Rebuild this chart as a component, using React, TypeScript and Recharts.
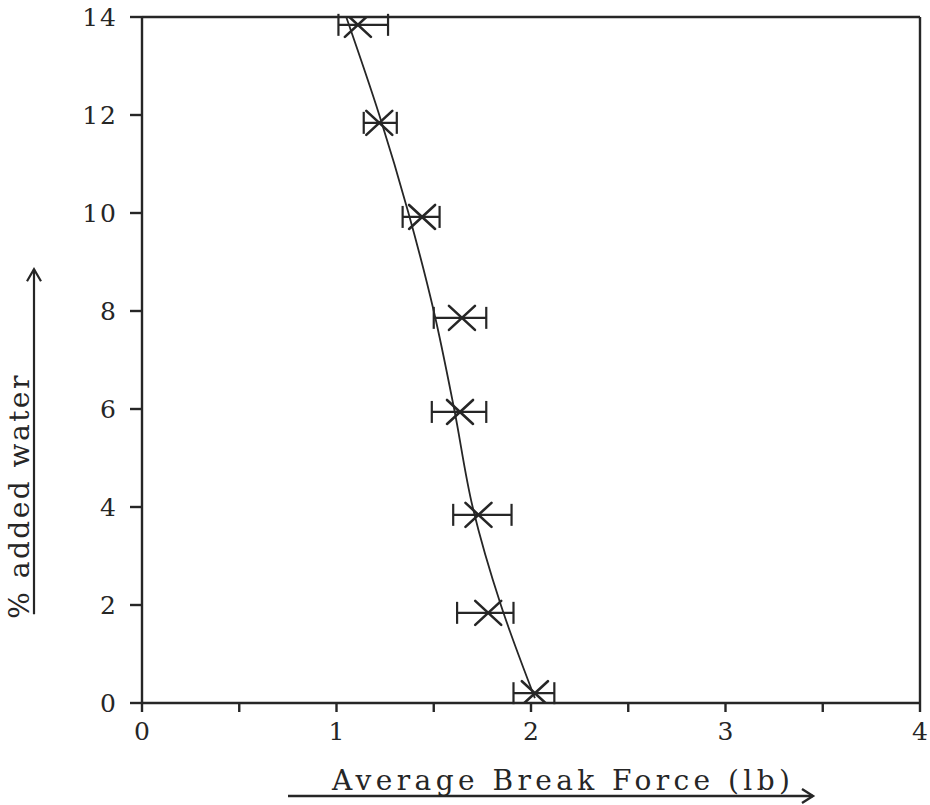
import React from "react";
import {
  ComposedChart,
  Line,
  Scatter,
  ErrorBar,
  XAxis,
  YAxis,
  ReferenceLine,
} from "recharts";

// measured points: % added water vs average break force (lb)
const water = [0.2, 1.84, 3.84, 5.94, 7.86, 9.92, 11.84, 13.84];
const avgForce = [2.02, 1.78, 1.73, 1.635, 1.645, 1.44, 1.22, 1.11];
const forceLow = [1.91, 1.62, 1.6, 1.49, 1.5, 1.34, 1.14, 1.01];
const forceHigh = [2.12, 1.91, 1.9, 1.77, 1.77, 1.53, 1.31, 1.265];

// hand-drawn fit curve
const curveWater = [0.1, 2, 4, 6, 8, 10, 12, 14];
const curveForce = [2.02, 1.845, 1.7, 1.605, 1.5, 1.37, 1.22, 1.05];

const xTicks = [0, 0.5, 1, 1.5, 2, 2.5, 3, 3.5, 4];
const yTicks = [0, 2, 4, 6, 8, 10, 12, 14];

const X_TITLE = "Average Break Force (lb)";
const Y_TITLE = "% added water";

const INK = "#262626";
const FONT = "'DejaVu Serif', 'Liberation Serif', serif";

const points = water.map((w, i) => ({
  water: w,
  force: avgForce[i],
  err: [avgForce[i] - forceLow[i], forceHigh[i] - avgForce[i]],
}));

const curve = curveWater.map((w, i) => ({ water: w, force: curveForce[i] }));

// diagonal cross marker
const XMark = (props: any) => {
  const { cx, cy } = props;
  if (cx == null || cy == null) return null;
  const dx = 13;
  const dy = 12;
  return (
    <g stroke={INK} strokeWidth={2.6} strokeLinecap="round">
      <line x1={cx - dx} y1={cy - dy} x2={cx + dx} y2={cy + dy} />
      <line x1={cx - dx} y1={cy + dy} x2={cx + dx} y2={cy - dy} />
    </g>
  );
};

const XTitle = (props: any) => {
  const { x, y, width } = props.viewBox;
  const cx = x + width / 2 + 30;
  const base = y + 87;
  const x1 = cx - 273;
  const x2 = cx + 252;
  const ly = base + 6;
  return (
    <g>
      <text
        x={cx}
        y={base}
        textAnchor="middle"
        fontFamily={FONT}
        fontSize={28}
        textLength={458}
        lengthAdjust="spacing"
        fill={INK}
      >
        {X_TITLE}
      </text>
      <g stroke={INK} strokeWidth={2.4} fill="none">
        <line x1={x1} y1={ly} x2={x2} y2={ly} />
        <polyline points={`${x2 - 11},${ly - 7} ${x2},${ly} ${x2 - 11},${ly + 7}`} />
      </g>
    </g>
  );
};

const YTitle = (props: any) => {
  const { x, y, height } = props.viewBox;
  const bx = x - 13;
  const cy = y + height * 0.7;
  const lx = bx + 5;
  const y1 = cy + 117;
  const y2 = cy - 228;
  return (
    <g>
      <text
        x={bx}
        y={cy}
        transform={`rotate(-90, ${bx}, ${cy})`}
        textAnchor="middle"
        fontFamily={FONT}
        fontSize={28}
        textLength={243}
        lengthAdjust="spacing"
        fill={INK}
      >
        {Y_TITLE}
      </text>
      <g stroke={INK} strokeWidth={2.2} fill="none">
        <line x1={lx} y1={y1} x2={lx} y2={y2} />
        <polyline points={`${lx - 7},${y2 + 12} ${lx},${y2} ${lx + 7},${y2 + 12}`} />
      </g>
    </g>
  );
};

export default function App() {
  return (
    <div
      style={{
        position: "absolute",
        left: 0,
        top: 0,
        width: 930,
        height: 805,
        background: "#fff",
      }}
    >
      <ComposedChart
        width={930}
        height={805}
        layout="vertical"
        margin={{ top: 17, right: 10, left: 42, bottom: 62 }}
      >
        <XAxis
          type="number"
          dataKey="force"
          domain={[0, 4]}
          ticks={xTicks}
          interval={0}
          tickFormatter={(v: number) => (Number.isInteger(v) ? String(v) : "")}
          tickSize={9}
          tickMargin={10}
          height={40}
          stroke={INK}
          strokeWidth={2.4}
          tick={{ fontFamily: FONT, fontSize: 25, fill: INK }}
          allowDataOverflow
          label={<XTitle />}
        />
        <YAxis
          type="number"
          dataKey="water"
          domain={[0, 14]}
          ticks={yTicks}
          interval={0}
          reversed
          tickSize={12}
          tickMargin={12}
          width={100}
          stroke={INK}
          strokeWidth={2.4}
          tick={{ fontFamily: FONT, fontSize: 25, fill: INK, letterSpacing: 2 }}
          allowDataOverflow
          label={<YTitle />}
        />
        <ReferenceLine x={4} stroke={INK} strokeWidth={2.4} />
        <ReferenceLine y={14} stroke={INK} strokeWidth={2.4} />
        <Line
          data={curve}
          dataKey="force"
          type="monotone"
          stroke={INK}
          strokeWidth={1.8}
          dot={false}
          activeDot={false}
          isAnimationActive={false}
        />
        <Scatter
          data={points}
          dataKey="force"
          shape={<XMark />}
          isAnimationActive={false}
        >
          <ErrorBar
            dataKey="err"
            direction="x"
            width={11}
            stroke={INK}
            strokeWidth={2.2}
            isAnimationActive={false}
          />
        </Scatter>
      </ComposedChart>
    </div>
  );
}
